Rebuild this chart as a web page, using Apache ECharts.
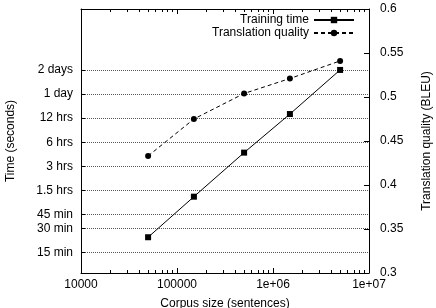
<!DOCTYPE html>
<html>
<head>
<meta charset="utf-8">
<script src="https://cdn.jsdelivr.net/npm/echarts@6/dist/echarts.min.js"></script>
<style>
html, body { margin: 0; padding: 0; background: #fff; }
#container { width: 436px; height: 308px; }
</style>
</head>
<body>
<div id="container"></div>
<script>
// corpus sizes (sentences)
var corpusSizes = [50000, 150000, 500000, 1500000, 5000000];
// training time, seconds
var trainingTime = [1400, 4500, 16000, 48600, 173000];
// BLEU score
var bleuScores = [0.433, 0.475, 0.504, 0.521, 0.541];

// left axis ticks (seconds) and their labels
var timeTicks = [900, 1800, 2700, 5400, 10800, 21600, 43200, 86400, 172800];
var timeLabels = ['15 min', '30 min', '45 min', '1.5 hrs', '3 hrs', '6 hrs', '12 hrs', '1 day', '2 days'];

// x axis ticks
var xMajorTicks = [10000, 100000, 1000000, 10000000];
var xMajorLabels = ['10000', '100000', '1e+06', '1e+07'];
var xMinorTicks = [];
for (var d = 10000; d < 10000000; d *= 10) {
    for (var k = 2; k <= 9; k++) xMinorTicks.push(d * k);
}

var FONT = 'Liberation Sans, Arial, sans-serif';

function pick(v, ticks, labels) {
    for (var i = 0; i < ticks.length; i++) {
        if (Math.abs(v - ticks[i]) / ticks[i] < 1e-6) return labels[i];
    }
    return '';
}

function xAxisOf(pos, ticks, len, main) {
    return {
        type: 'log',
        position: pos,
        min: 10000,
        max: 10000000,
        axisLine: {show: main, onZero: false, lineStyle: {color: '#000', width: 1}},
        axisTick: {show: true, inside: true, length: len, customValues: ticks, lineStyle: {color: '#000'}},
        axisLabel: {
            show: main && pos === 'bottom',
            customValues: xMajorTicks,
            margin: 6,
            color: '#000',
            fontFamily: FONT,
            fontSize: 12,
            formatter: function (v) { return pick(v, xMajorTicks, xMajorLabels); }
        },
        splitLine: {show: false},
        name: main && pos === 'bottom' ? 'Corpus size (sentences)' : '',
        nameLocation: 'middle',
        nameGap: 25,
        nameTextStyle: {color: '#000', fontFamily: FONT, fontSize: 12}
    };
}

var dom = document.getElementById('container');
var myChart = echarts.init(dom);
var option = {
    animation: false,
    backgroundColor: '#fff',
    grid: {left: 81, right: 67, top: 9, bottom: 35, containLabel: false, outerBoundsMode: 'none'},
    legend: {
        orient: 'vertical',
        right: 81,
        top: 14,
        align: 'right',
        padding: 0,
        itemWidth: 40,
        itemHeight: 8,
        itemGap: 1,
        textStyle: {color: '#000', fontFamily: FONT, fontSize: 12, lineHeight: 12},
        data: ['Training time', 'Translation quality']
    },
    xAxis: [
        xAxisOf('bottom', xMajorTicks, 5, true),
        xAxisOf('bottom', xMinorTicks, 3, false),
        xAxisOf('top', xMajorTicks, 5, true),
        xAxisOf('top', xMinorTicks, 3, false)
    ],
    yAxis: [{
        type: 'log',
        position: 'left',
        min: 500,
        max: 1000000,
        axisLine: {show: true, lineStyle: {color: '#000', width: 1}},
        axisTick: {show: true, inside: true, length: 4, customValues: timeTicks, lineStyle: {color: '#000'}},
        axisLabel: {
            customValues: timeTicks,
            margin: 8,
            color: '#000',
            fontFamily: FONT,
            fontSize: 12,
            formatter: function (v) { return pick(v, timeTicks, timeLabels); }
        },
        splitLine: {show: true, lineStyle: {color: '#555', type: 'dotted', width: 1}},
        name: 'Time (seconds)',
        nameLocation: 'middle',
        nameRotate: 90,
        nameGap: 64,
        nameTextStyle: {color: '#000', fontFamily: FONT, fontSize: 12}
    }, {
        type: 'value',
        position: 'right',
        min: 0.3,
        max: 0.6,
        interval: 0.05,
        axisLine: {show: true, lineStyle: {color: '#000', width: 1}},
        axisTick: {show: true, inside: true, length: 5, lineStyle: {color: '#000'}},
        axisLabel: {margin: 11, color: '#000', fontFamily: FONT, fontSize: 12},
        splitLine: {show: false},
        name: 'Translation quality (BLEU)',
        nameLocation: 'middle',
        nameRotate: 90,
        nameGap: 52,
        nameTextStyle: {color: '#000', fontFamily: FONT, fontSize: 12}
    }],
    series: [{
        name: 'Training time',
        type: 'line',
        xAxisIndex: 0,
        yAxisIndex: 0,
        data: corpusSizes.map(function (x, i) { return [x, trainingTime[i]]; }),
        symbol: 'rect',
        symbolSize: 6,
        itemStyle: {color: '#000'},
        lineStyle: {color: '#000', width: 1}
    }, {
        name: 'Translation quality',
        type: 'line',
        xAxisIndex: 0,
        yAxisIndex: 1,
        data: corpusSizes.map(function (x, i) { return [x, bleuScores[i]]; }),
        symbol: 'circle',
        symbolSize: 6,
        itemStyle: {color: '#000'},
        lineStyle: {color: '#000', width: 1, type: [4, 3]}
    }]
};
myChart.setOption(option, true);
</script>
</body>
</html>
